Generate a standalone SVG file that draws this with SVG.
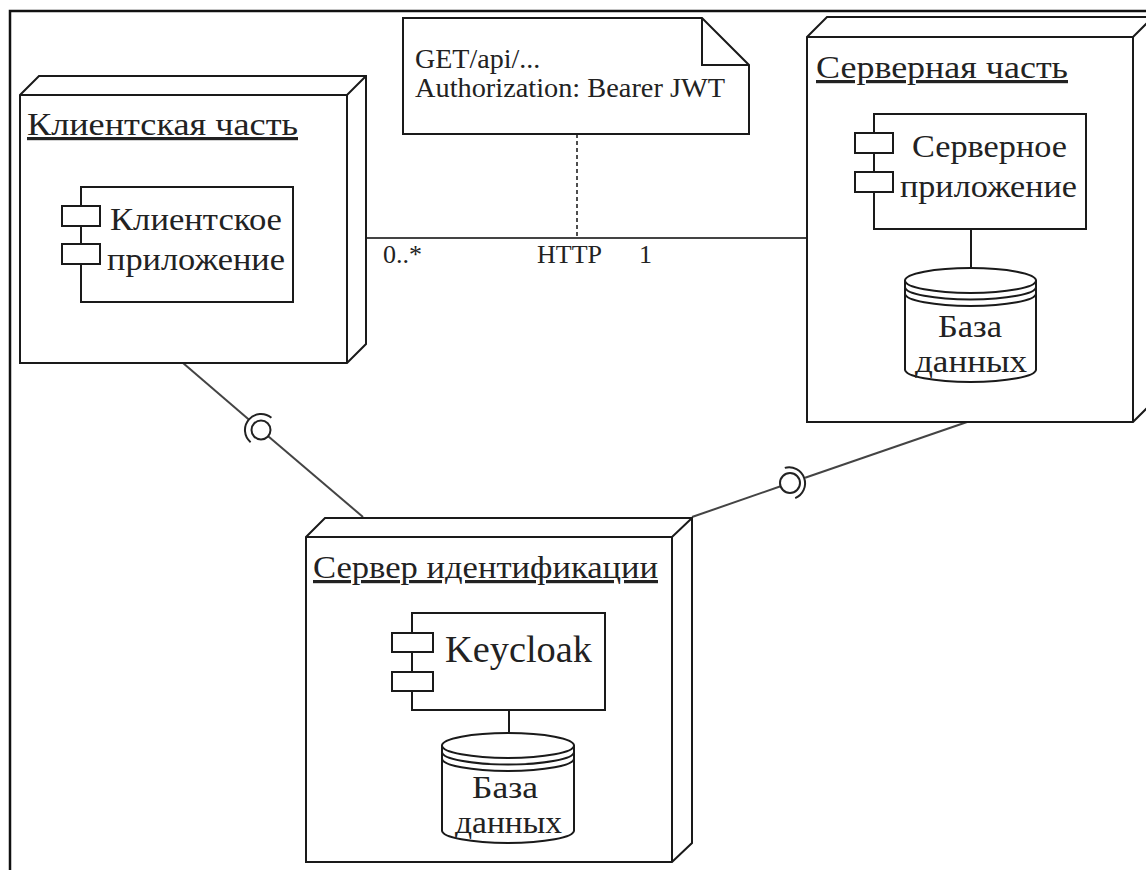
<svg xmlns="http://www.w3.org/2000/svg" width="1146" height="870" viewBox="0 0 1146 870">
<style>
  .frame{fill:none;stroke:#111;stroke-width:2.5}
  .node{fill:#fff;stroke:#1a1a1a;stroke-width:2;stroke-linejoin:miter}
  .comp{fill:#fff;stroke:#1a1a1a;stroke-width:2}
  .ln{fill:none;stroke:#1a1a1a;stroke-width:2}
  .conn{fill:none;stroke:#444;stroke-width:2}
  .sock{fill:none;stroke:#222;stroke-width:2}
  .dash{fill:none;stroke:#222;stroke-width:1.6;stroke-dasharray:4 3}
  text{font-family:"Liberation Serif","Times New Roman",serif;fill:#222}
  .title{font-size:32px;text-decoration:underline}
  .ctext{font-size:32px;text-anchor:middle}
  .dbtext{font-size:32px;text-anchor:middle}
  .note{font-size:28px}
  .lbl{font-size:26px}
</style>
<rect width="1146" height="870" fill="#fff"/>
<path class="frame" d="M10,870 L10,11 L1146,11"/>

<g id="connectors">
  <line class="conn" x1="366" y1="238" x2="807" y2="238"/>
  <line class="dash" x1="577" y1="134" x2="577" y2="238"/>
  <text class="lbl" x="383" y="263">0..*</text>
  <text class="lbl" x="537" y="263">HTTP</text>
  <text class="lbl" x="639" y="263">1</text>
  <line class="conn" x1="183" y1="363" x2="248.8" y2="419.6"/>
  <line class="conn" x1="268.2" y1="436.2" x2="363" y2="517"/>
  <circle class="sock" cx="261" cy="430" r="9.5"/>
  <path class="sock" d="M271.4,417.8 A16,16 0 0 0 250.6,442.2"/>
  <line class="conn" x1="970" y1="421" x2="805.1" y2="477.8"/>
  <line class="conn" x1="780.6" y1="486.3" x2="692" y2="517"/>
  <circle class="sock" cx="790" cy="483" r="10"/>
  <path class="sock" d="M784.8,467.9 A16,16 0 0 1 795.2,498.1"/>
</g>

<g id="note">
  <path class="node" d="M403,18 L702,18 L749,65 L749,134 L403,134 Z"/>
  <path class="ln" d="M702,18 L702,65 L749,65"/>
  <text class="note" x="415" y="68">GET/api/...</text>
  <text class="note" x="415" y="97" textLength="310" lengthAdjust="spacingAndGlyphs">Authorization: Bearer JWT</text>
</g>

<g id="client-node">
  <path class="node" d="M20,95 L39,76 L366,76 L366,344 L347,363 L20,363 Z"/>
  <path class="ln" d="M20,95 L347,95 L366,76 M347,95 L347,363"/>
  <text class="title" x="27" y="135" textLength="271" lengthAdjust="spacingAndGlyphs">Клиентская часть</text>
  <g id="client-app">
    <rect class="comp" x="81" y="187" width="212" height="115"/>
    <rect class="comp" x="62" y="206" width="38" height="20"/>
    <rect class="comp" x="62" y="244" width="38" height="20"/>
    <text class="ctext" x="196" y="230" textLength="172" lengthAdjust="spacingAndGlyphs">Клиентское</text>
    <text class="ctext" x="196" y="270" textLength="178" lengthAdjust="spacingAndGlyphs">приложение</text>
  </g>
</g>

<g id="server-node">
  <path class="node" d="M807,37 L827,17 L1153,17 L1153,402 L1133,422 L807,422 Z"/>
  <path class="ln" d="M807,37 L1133,37 L1153,17 M1133,37 L1133,422"/>
  <text class="title" x="816" y="78" textLength="252" lengthAdjust="spacingAndGlyphs">Серверная часть</text>
  <g id="server-app">
    <rect class="comp" x="874" y="114" width="212" height="115"/>
    <rect class="comp" x="855" y="133" width="38" height="20"/>
    <rect class="comp" x="855" y="172" width="38" height="20"/>
    <text class="ctext" x="989.5" y="157" textLength="155" lengthAdjust="spacingAndGlyphs">Серверное</text>
    <text class="ctext" x="988.5" y="197" textLength="177" lengthAdjust="spacingAndGlyphs">приложение</text>
  </g>
  <line class="ln" x1="971" y1="229" x2="971" y2="268"/>
  <g id="server-db">
    <path class="comp" d="M905,280.5 A65.5,12.5 0 0 1 1036,280.5 L1036,369.5 A65.5,12.5 0 0 1 905,369.5 Z"/>
    <path class="ln" d="M905,280.5 A65.5,12.5 0 0 0 1036,280.5 M905,287 A65.5,12.5 0 0 0 1036,287 M905,293.5 A65.5,12.5 0 0 0 1036,293.5"/>
    <text class="dbtext" x="970" y="337" textLength="64" lengthAdjust="spacingAndGlyphs">База</text>
    <text class="dbtext" x="971" y="372" textLength="112" lengthAdjust="spacingAndGlyphs">данных</text>
  </g>
</g>

<g id="identity-node">
  <path class="node" d="M306,537 L325,518 L692,518 L692,843 L672,862 L306,862 Z"/>
  <path class="ln" d="M306,537 L672,537 L692,518 M672,537 L672,862"/>
  <text class="title" x="313" y="578" textLength="345" lengthAdjust="spacingAndGlyphs">Сервер идентификации</text>
  <g id="keycloak">
    <rect class="comp" x="412" y="613" width="193" height="97"/>
    <rect class="comp" x="392" y="633" width="41" height="19"/>
    <rect class="comp" x="392" y="672" width="41" height="19"/>
    <text class="ctext" x="518.5" y="662" style="font-size:37px" textLength="147" lengthAdjust="spacingAndGlyphs">Keycloak</text>
  </g>
  <line class="ln" x1="509" y1="710" x2="509" y2="733"/>
  <g id="identity-db">
    <path class="comp" d="M442,745.5 A66,12.5 0 0 1 574,745.5 L574,830.5 A66,12.5 0 0 1 442,830.5 Z"/>
    <path class="ln" d="M442,745.5 A66,12.5 0 0 0 574,745.5 M442,752 A66,12.5 0 0 0 574,752 M442,758.5 A66,12.5 0 0 0 574,758.5"/>
    <text class="dbtext" x="505" y="798" textLength="66" lengthAdjust="spacingAndGlyphs">База</text>
    <text class="dbtext" x="508.5" y="833" textLength="107" lengthAdjust="spacingAndGlyphs">данных</text>
  </g>
</g>
</svg>
